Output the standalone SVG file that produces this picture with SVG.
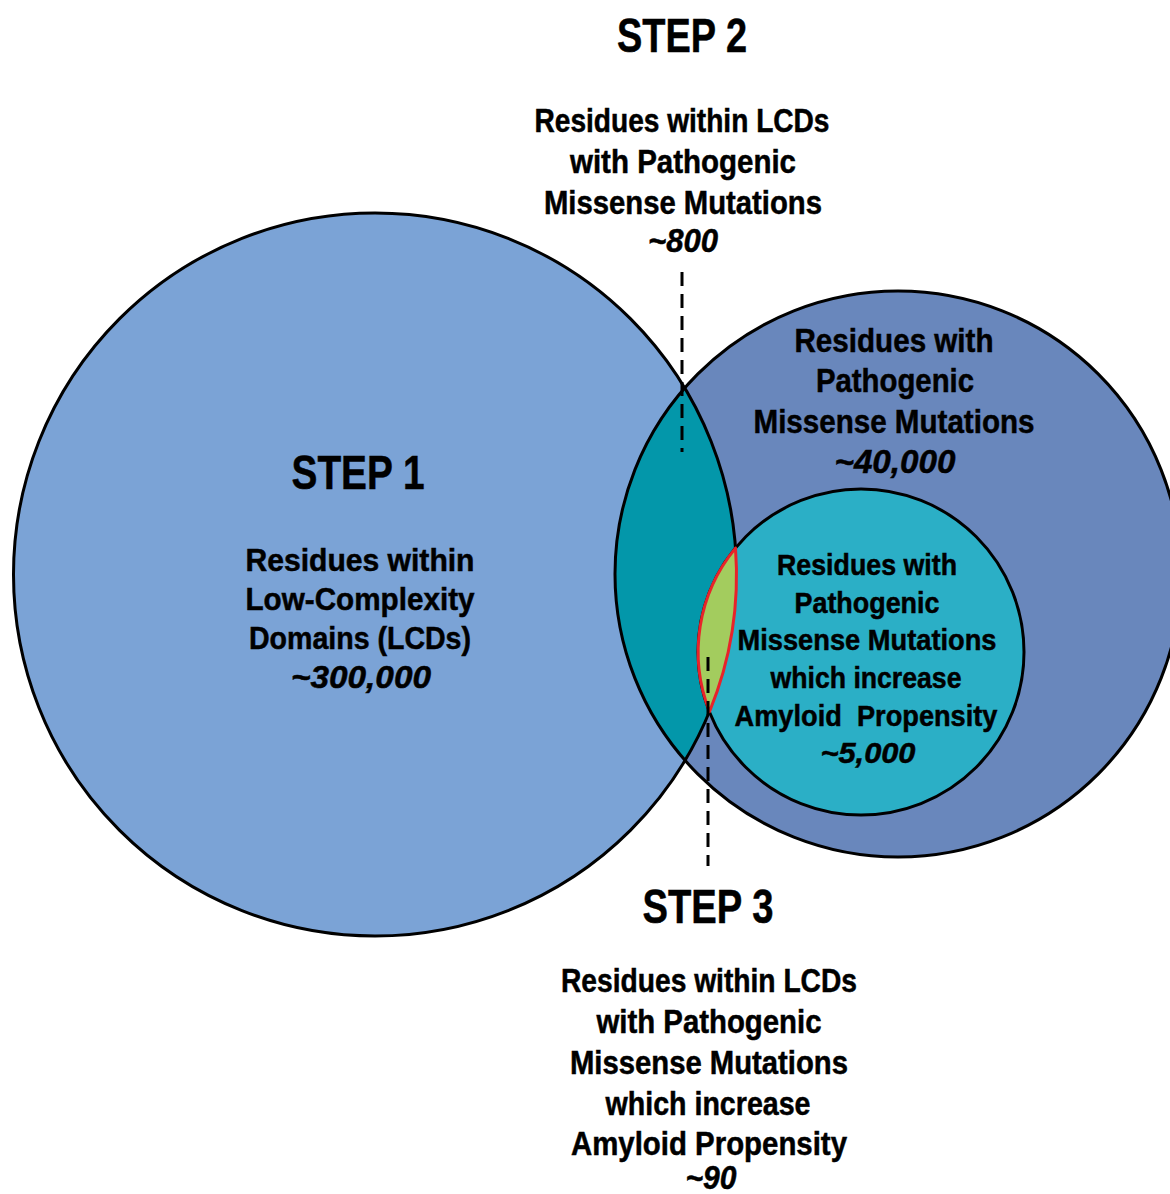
<svg xmlns="http://www.w3.org/2000/svg" width="1170" height="1194" viewBox="0 0 1170 1194">
<style>
.t{font-family:"Liberation Sans",Arial,sans-serif;font-weight:bold;fill:#000;stroke:#000;stroke-width:0.5;text-anchor:middle}
.step{font-size:48px}
.b32{font-size:33px}
.b30{font-size:31px}
.b28{font-size:29px}
.i{font-style:italic}
.edge{fill:none;stroke:#000;stroke-width:3}
.dash{fill:none;stroke:#000;stroke-width:3;stroke-dasharray:14 8}
</style>
<rect width="1170" height="1194" fill="#fff"/>
<g id="lcd-circle">
<circle cx="375" cy="574.5" r="361.5" fill="#7BA3D6"/>
</g>
<g id="pathogenic-circle">
<circle cx="898" cy="574" r="283" fill="#6987BC"/>
</g>
<g id="step2-lens">
<path d="M684.9,388.4 A283,283 0 0 0 684.9,760.6 A361.5,361.5 0 0 0 684.9,388.4 Z" fill="#0397AA"/>
</g>
<g id="outlines">
<circle class="edge" cx="375" cy="574.5" r="361.5"/>
<circle class="edge" cx="898" cy="574" r="283"/>
</g>
<g id="amyloid-circle">
<circle cx="861" cy="652" r="163" fill="#2BAFC6" stroke="#000" stroke-width="3"/>
</g>
<g id="step3-lens">
<path d="M735.5,548.1 A163,163 0 0 0 709.5,711.7 A361.5,361.5 0 0 0 735.5,548.1 Z" fill="#A3CC5E" stroke="#E8232A" stroke-width="3" stroke-linejoin="round"/>
</g>
<g id="connectors">
<line class="dash" x1="682" y1="272" x2="682" y2="452"/>
<line class="dash" x1="708" y1="657" x2="708" y2="866"/>
</g>
<g id="step1-label">
<text class="t step" x="358" y="489" textLength="133" lengthAdjust="spacingAndGlyphs">STEP 1</text>
<text class="t b30" x="360" y="571" textLength="229" lengthAdjust="spacingAndGlyphs">Residues within</text>
<text class="t b30" x="360" y="610" textLength="229" lengthAdjust="spacingAndGlyphs">Low-Complexity</text>
<text class="t b30" x="360" y="649" textLength="222" lengthAdjust="spacingAndGlyphs">Domains (LCDs)</text>
<text class="t b30 i" x="361" y="688" textLength="140" lengthAdjust="spacingAndGlyphs">~300,000</text>
</g>
<g id="step2-label">
<text class="t step" x="682" y="52" textLength="130" lengthAdjust="spacingAndGlyphs">STEP 2</text>
<text class="t b32" x="682" y="132" textLength="295" lengthAdjust="spacingAndGlyphs">Residues within LCDs</text>
<text class="t b32" x="683" y="173" textLength="226" lengthAdjust="spacingAndGlyphs">with Pathogenic</text>
<text class="t b32" x="683" y="214" textLength="278" lengthAdjust="spacingAndGlyphs">Missense Mutations</text>
<text class="t b32 i" x="683" y="252" textLength="70" lengthAdjust="spacingAndGlyphs">~800</text>
</g>
<g id="pathogenic-label">
<text class="t b32" x="894" y="352" textLength="199" lengthAdjust="spacingAndGlyphs">Residues with</text>
<text class="t b32" x="895" y="392" textLength="158" lengthAdjust="spacingAndGlyphs">Pathogenic</text>
<text class="t b32" x="894" y="433" textLength="281" lengthAdjust="spacingAndGlyphs">Missense Mutations</text>
<text class="t b32 i" x="895" y="473" textLength="121" lengthAdjust="spacingAndGlyphs">~40,000</text>
</g>
<g id="amyloid-label">
<text class="t b28" x="867" y="575" textLength="180" lengthAdjust="spacingAndGlyphs">Residues with</text>
<text class="t b28" x="867" y="613" textLength="145" lengthAdjust="spacingAndGlyphs">Pathogenic</text>
<text class="t b28" x="867" y="650" textLength="259" lengthAdjust="spacingAndGlyphs">Missense Mutations</text>
<text class="t b28" x="866" y="688" textLength="191" lengthAdjust="spacingAndGlyphs">which increase</text>
<text class="t b28" x="866" y="726" textLength="263" lengthAdjust="spacingAndGlyphs" xml:space="preserve">Amyloid  Propensity</text>
<text class="t b28 i" x="868" y="763" textLength="95" lengthAdjust="spacingAndGlyphs">~5,000</text>
</g>
<g id="step3-label">
<text class="t step" x="708" y="923" textLength="131" lengthAdjust="spacingAndGlyphs">STEP 3</text>
<text class="t b32" x="709" y="992" textLength="296" lengthAdjust="spacingAndGlyphs">Residues within LCDs</text>
<text class="t b32" x="709" y="1033" textLength="225" lengthAdjust="spacingAndGlyphs">with Pathogenic</text>
<text class="t b32" x="709" y="1074" textLength="278" lengthAdjust="spacingAndGlyphs">Missense Mutations</text>
<text class="t b32" x="708" y="1115" textLength="205" lengthAdjust="spacingAndGlyphs">which increase</text>
<text class="t b32" x="709" y="1155" textLength="276" lengthAdjust="spacingAndGlyphs">Amyloid Propensity</text>
<text class="t b32 i" x="711" y="1189" textLength="51" lengthAdjust="spacingAndGlyphs">~90</text>
</g>
</svg>
